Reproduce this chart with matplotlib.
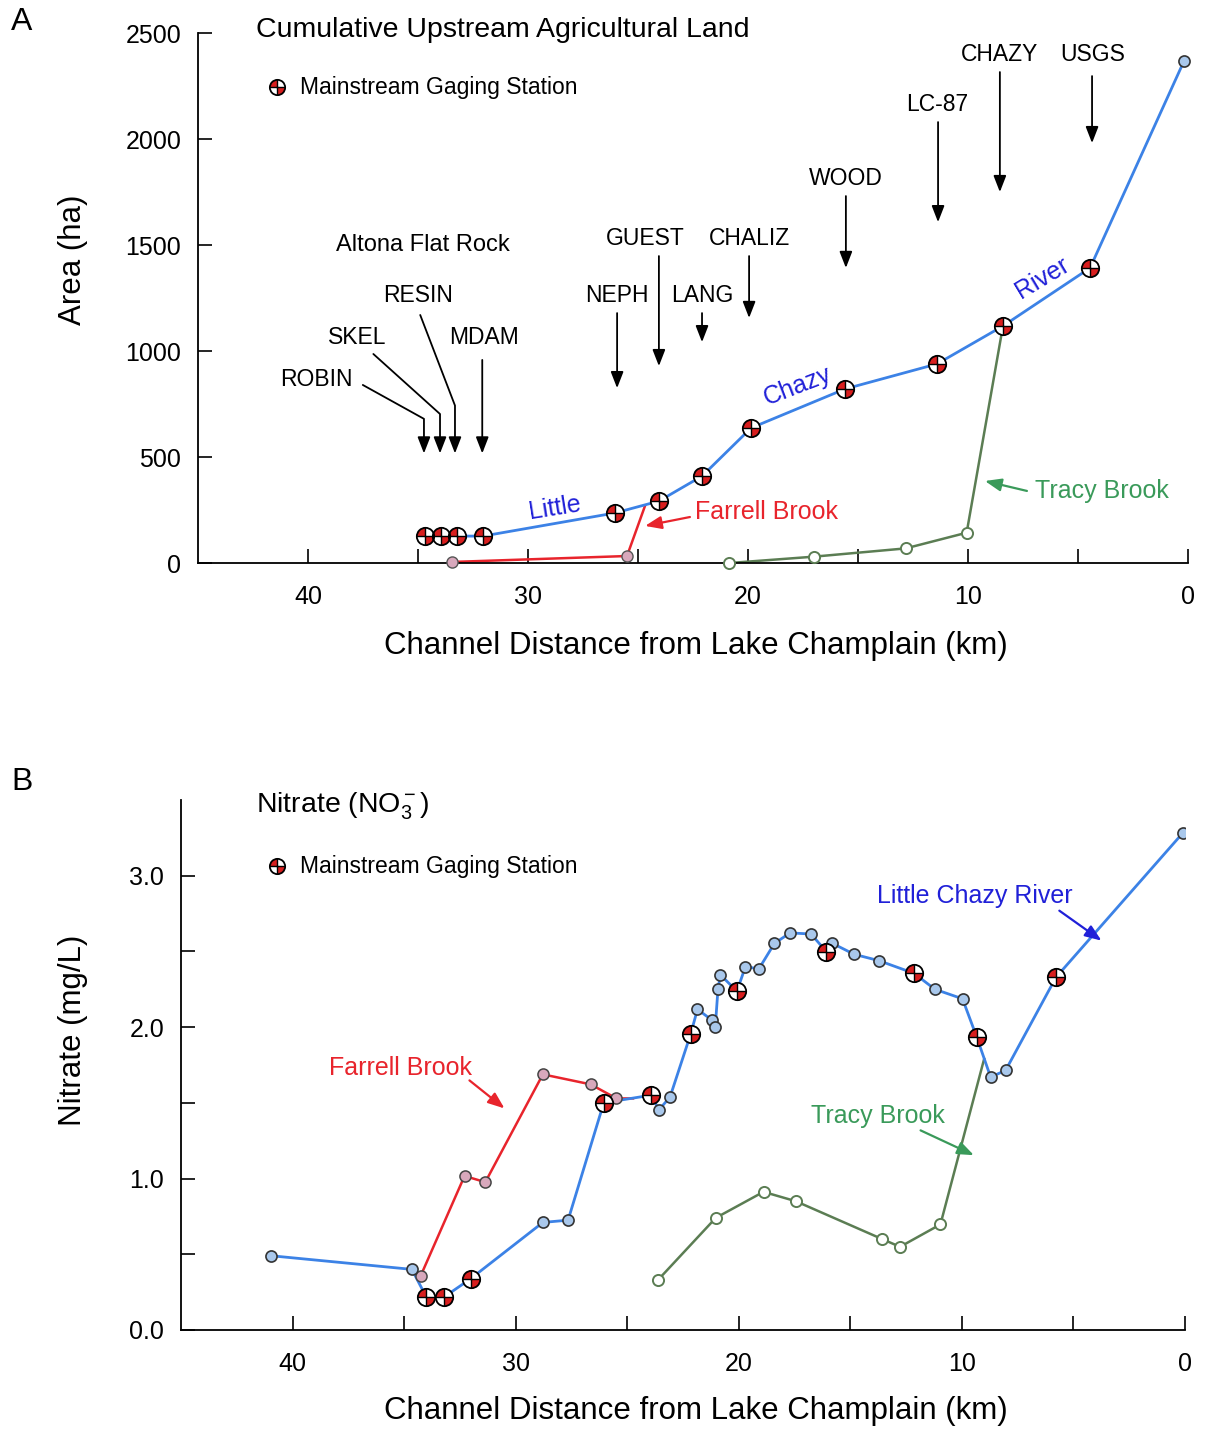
#!/usr/bin/env python3

import matplotlib
matplotlib.use('Agg')
import matplotlib.pyplot as plt
from matplotlib.path import Path

plt.rcParams['font.family'] = ['Liberation Sans', 'DejaVu Sans']
plt.rcParams['mathtext.fontset'] = 'custom'
plt.rcParams['mathtext.rm'] = 'Liberation Sans'
plt.rcParams['mathtext.it'] = 'Liberation Sans:italic'

# ---- Panel A: cumulative upstream agricultural land (ha) ----
a_little_km = [34.68, 33.95, 33.23, 32.05, 26.05, 24.05, 22.09, 19.86, 15.59, 11.41, 8.41, 4.45, 0.18]
a_little_ha = [127, 127, 127, 127, 236, 292, 410, 637, 821, 939, 1118, 1392, 2368]
a_little_gauge = [True] * 12 + [False]

a_farrell_km = [33.45, 25.5, 24.68]
a_farrell_ha = [5, 33, 270]

a_tracy_km = [20.85, 17.0, 12.83, 10.06, 8.41]
a_tracy_ha = [0, 30, 69, 143, 1118]

# ---- Panel B: nitrate (mg/L) ----
b_little_km = [40.96, 34.65, 34.0, 33.22, 32.02, 28.78, 27.65, 26.05, 23.95, 23.57, 23.08,
               22.15, 21.85, 21.22, 21.05, 20.93, 20.82, 20.08, 19.7, 19.1, 18.4, 17.7,
               16.76, 16.07, 15.8, 14.83, 13.72, 12.14, 11.21, 9.97, 9.33, 8.71, 8.04,
               5.78, 0.09]
b_little_no3 = [0.49, 0.40, 0.216, 0.216, 0.338, 0.71, 0.725, 1.50, 1.55, 1.455, 1.538,
                1.956, 2.118, 2.048, 2.004, 2.252, 2.345, 2.237, 2.40, 2.384, 2.553, 2.622,
                2.615, 2.498, 2.553, 2.481, 2.439, 2.355, 2.25, 2.187, 1.933, 1.67, 1.714,
                2.329, 3.283]
b_gauge_km = [34.0, 33.22, 32.02, 26.05, 23.95, 22.15, 20.08, 16.07, 12.14, 9.33, 5.78]

b_farrell_km = [34.26, 32.29, 31.36, 28.78, 26.64, 25.48, 24.74]
b_farrell_no3 = [0.356, 1.017, 0.976, 1.688, 1.622, 1.529, 1.529]

b_tracy_km = [23.62, 21.03, 18.89, 17.44, 13.57, 12.77, 10.96, 9.0]
b_tracy_no3 = [0.33, 0.74, 0.912, 0.85, 0.60, 0.549, 0.697, 1.79]

BLUE = '#3c82e6'
LBLUE = '#a9c8ec'
RED = '#e8242c'
PINK = '#d8a8bc'
GREEN = '#5b7d53'
GTEXT = '#3a9a5a'
BTEXT = '#2020d8'
GRED = '#d81e1e'

QUAD = Path.make_compound_path(Path.wedge(90, 180), Path.wedge(270, 360))


def gauge(ax, x, y, ms=12.5, transform=None):
    kw = dict(ls='none', clip_on=False)
    if transform is not None:
        kw['transform'] = transform
    ax.plot(x, y, marker='o', ms=ms, mfc='white', mec='none', zorder=5, **kw)
    ax.plot(x, y, marker=QUAD, ms=ms, mfc=GRED, mec='none', zorder=6, **kw)
    ax.plot(x, y, marker='+', ms=ms, mec='black', mew=1.0, zorder=7, **kw)
    ax.plot(x, y, marker='o', ms=ms, mfc='none', mec='black', mew=1.3, zorder=8, **kw)


def style_axes(ax):
    for s in ['top', 'right']:
        ax.spines[s].set_visible(False)
    for s in ['left', 'bottom']:
        ax.spines[s].set_linewidth(1.3)
    ax.set_xlim(45, 0)
    ax.set_xticks(range(0, 45, 5), labels=[str(v) if v % 10 == 0 else '' for v in range(0, 45, 5)])
    ax.tick_params(direction='in', length=10, width=1.2, labelsize=18, colors='black')
    ax.tick_params(axis='y', pad=12)
    ax.tick_params(axis='x', pad=16)


def arrow(ax, start, end, color='black', conn='arc3', lw=1.3):
    ax.annotate('', xy=end, xytext=start,
                arrowprops=dict(arrowstyle='-|>,head_length=0.9,head_width=0.35', color=color,
                                lw=lw, shrinkA=0, shrinkB=0, mutation_scale=11,
                                connectionstyle=conn))


fig = plt.figure(figsize=(12.09, 14.37), dpi=100)
axA = fig.add_axes([0.1638, 0.6082, 0.8188, 0.3688])
axB = fig.add_axes([0.1497, 0.0745, 0.8304, 0.3688])

# ---------------- Panel A ----------------
ax = axA
style_axes(ax)
ax.set_ylim(0, 2500)
ax.set_yticks(range(0, 2501, 500))

ax.plot(a_tracy_km, a_tracy_ha, color=GREEN, lw=1.8, zorder=2)
ax.plot(a_tracy_km[:-1], a_tracy_ha[:-1], ls='none', marker='o', ms=8, mfc='white',
        mec=GREEN, mew=1.4, zorder=3, clip_on=False)
ax.plot(a_farrell_km, a_farrell_ha, color=RED, lw=1.8, zorder=2)
ax.plot(a_farrell_km[:-1], a_farrell_ha[:-1], ls='none', marker='o', ms=8, mfc=PINK,
        mec='#555555', mew=1.0, zorder=3, clip_on=False)
ax.plot(a_little_km, a_little_ha, color=BLUE, lw=2.0, zorder=3)
gk = [k for k, g in zip(a_little_km, a_little_gauge) if g]
gv = [v for v, g in zip(a_little_ha, a_little_gauge) if g]
gauge(ax, gk, gv)
nk = [k for k, g in zip(a_little_km, a_little_gauge) if not g]
nv = [v for v, g in zip(a_little_ha, a_little_gauge) if not g]
ax.plot(nk, nv, ls='none', marker='o', ms=8, mfc=LBLUE, mec='#333333', mew=1.2, zorder=4, clip_on=False)

ax.set_xlabel('Channel Distance from Lake Champlain (km)', fontsize=22.5)
ax.xaxis.set_label_coords(0.503, -0.128)
ax.set_ylabel('Area (ha)', fontsize=22.5)
ax.yaxis.set_label_coords(-0.111, 0.572)

ax.text(0.0586, 1.006, 'Cumulative Upstream Agricultural Land', transform=ax.transAxes,
        fontsize=20.5, ha='left', va='center')
gauge(ax, [0.0798], [0.898], ms=11, transform=ax.transAxes)
ax.text(0.103, 0.898, 'Mainstream Gaging Station', transform=ax.transAxes,
        fontsize=16.5, ha='left', va='center')

# site labels with arrows
site_fs = 16.5
ax.text(34.77, 1500, 'Altona Flat Rock', fontsize=17, ha='center', va='center')
for name, lx, ly in [('ROBIN', 39.6, 866), ('SKEL', 37.77, 1066), ('RESIN', 35.0, 1264),
                     ('MDAM', 32.0, 1066), ('NEPH', 25.95, 1264), ('GUEST', 24.68, 1533),
                     ('LANG', 22.09, 1264), ('CHALIZ', 19.95, 1533), ('WOOD', 15.55, 1816),
                     ('LC-87', 11.41, 2165), ('CHAZY', 8.55, 2401), ('USGS', 4.32, 2401)]:
    ax.text(lx, ly, name, fontsize=site_fs, ha='center', va='center')

arrow(ax, (37.51, 840), (34.73, 517), conn='angle,angleA=-29,angleB=90,rad=0')
arrow(ax, (37.03, 986), (34.0, 517), conn='angle,angleA=-42,angleB=90,rad=0')
arrow(ax, (34.9, 1170), (33.32, 517), conn='angle,angleA=-69,angleB=90,rad=0')
arrow(ax, (32.08, 958), (32.08, 517))
arrow(ax, (25.95, 1179), (25.95, 825))
arrow(ax, (24.05, 1448), (24.05, 929))
arrow(ax, (22.09, 1179), (22.09, 1042))
arrow(ax, (19.95, 1448), (19.95, 1156))
arrow(ax, (15.55, 1731), (15.55, 1392))
arrow(ax, (11.36, 2080), (11.36, 1608))
arrow(ax, (8.55, 2316), (8.55, 1750))
arrow(ax, (4.36, 2297), (4.36, 1981))

# line labels
ax.text(28.77, 259, 'Little', color=BTEXT, fontsize=18, rotation=9, ha='center', va='center',
        rotation_mode='anchor')
ax.text(17.73, 835, 'Chazy', color=BTEXT, fontsize=18, rotation=21, ha='center', va='center',
        rotation_mode='anchor')
ax.text(6.64, 1344, 'River', color=BTEXT, fontsize=18, rotation=31, ha='center', va='center',
        rotation_mode='anchor')
ax.text(22.4, 241, 'Farrell Brook', color=RED, fontsize=18, ha='left', va='center')
arrow(ax, (22.64, 217), (24.68, 175), color=RED, lw=1.6)
ax.text(6.95, 340, 'Tracy Brook', color=GTEXT, fontsize=18, ha='left', va='center')
arrow(ax, (7.32, 340), (9.23, 387), color=GTEXT, lw=1.6)

# ---------------- Panel B ----------------
ax = axB
style_axes(ax)
ax.set_ylim(0, 3.5)
ax.set_yticks([0, 0.5, 1.0, 1.5, 2.0, 2.5, 3.0],
              labels=['0.0', '', '1.0', '', '2.0', '', '3.0'])

ax.plot(b_tracy_km, b_tracy_no3, color=GREEN, lw=1.8, zorder=2)
ax.plot(b_tracy_km[:-1], b_tracy_no3[:-1], ls='none', marker='o', ms=8, mfc='white',
        mec=GREEN, mew=1.4, zorder=3)
ax.plot(b_farrell_km, b_farrell_no3, color=RED, lw=1.8, zorder=2)
ax.plot(b_farrell_km[:-1], b_farrell_no3[:-1], ls='none', marker='o', ms=8, mfc=PINK,
        mec='#444444', mew=1.1, zorder=4)
ax.plot(b_little_km, b_little_no3, color=BLUE, lw=2.0, zorder=3)
nk = [k for k in b_little_km if k not in b_gauge_km]
nv = [v for k, v in zip(b_little_km, b_little_no3) if k not in b_gauge_km]
ax.plot(nk, nv, ls='none', marker='o', ms=8, mfc=LBLUE, mec='#333333', mew=1.2, zorder=4)
gv = [v for k, v in zip(b_little_km, b_little_no3) if k in b_gauge_km]
gauge(ax, b_gauge_km, gv)

ax.set_xlabel('Channel Distance from Lake Champlain (km)', fontsize=22.5)
ax.xaxis.set_label_coords(0.513, -0.125)
ax.set_ylabel('Nitrate (mg/L)', fontsize=22.5)
ax.yaxis.set_label_coords(-0.0926, 0.566)

ax.text(0.0747, 0.9887, r'Nitrate (NO$_3^-$)', transform=ax.transAxes,
        fontsize=20.5, ha='left', va='center')
gauge(ax, [0.0956], [0.875], ms=11, transform=ax.transAxes)
ax.text(0.1185, 0.875, 'Mainstream Gaging Station', transform=ax.transAxes,
        fontsize=16.5, ha='left', va='center')

ax.text(9.41, 2.868, 'Little Chazy River', color=BTEXT, fontsize=18, ha='center', va='center')
arrow(ax, (5.63, 2.769), (3.74, 2.571), color=BTEXT, lw=1.6)
ax.text(35.14, 1.727, 'Farrell Brook', color=RED, fontsize=18, ha='center', va='center')
arrow(ax, (32.07, 1.648), (30.5, 1.463), color=RED, lw=1.6)
ax.text(13.78, 1.411, 'Tracy Brook', color=GTEXT, fontsize=18, ha='center', va='center')
arrow(ax, (11.85, 1.318), (9.46, 1.154), color=GTEXT, lw=1.6)

fig.text(0.018, 0.9847, 'A', fontsize=23, ha='center', va='center')
fig.text(0.018, 0.4558, 'B', fontsize=23, ha='center', va='center')

fig.savefig('out.png', dpi=100)
